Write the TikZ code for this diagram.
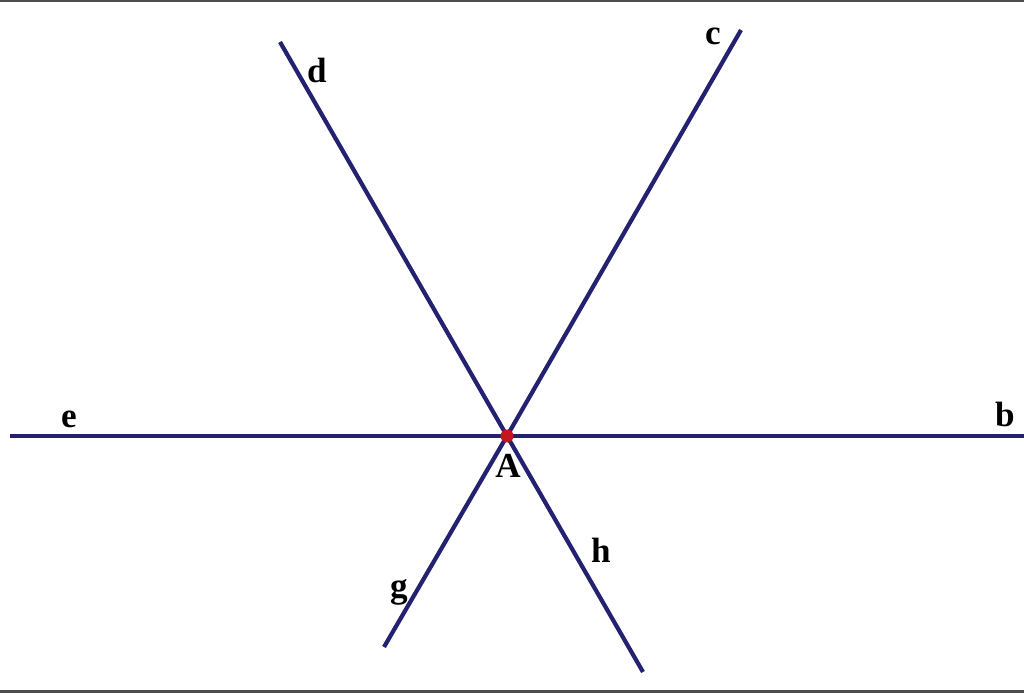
\documentclass[tikz,border=0pt]{standalone}
\usepackage{fontspec}
\setmainfont{Liberation Serif}
\usepackage{tikz}
\usetikzlibrary{arrows}
\definecolor{linenavy}{RGB}{36,34,112}
\definecolor{pointred}{RGB}{200,20,30}
\tikzset{
  ray/.style={line width=2.4pt,color=linenavy},
  lbl/.style={anchor=base,inner sep=0pt,font=\fontsize{20}{22}\selectfont\bfseries},
  frameline/.style={fill=black!70,draw=none}
}
\begin{document}
\begin{tikzpicture}[x=0.02cm,y=-0.02cm,>=latex]
                \useasboundingbox (0,0) rectangle (1024,695);
                % The frame
                \fill[frameline] (0,0) rectangle (1024,2.5);
                \fill[frameline] (0,689.5) rectangle (1024,693);
                % The point and the ends of the rays
                \coordinate (A) at (507,436);
                \coordinate (Ed) at (280,42);
                \coordinate (Ec) at (741,30);
                \coordinate (Eg) at (384,647);
                \coordinate (Eh) at (643,672);
                \coordinate (Ee) at (10,436);
                \coordinate (Eb) at (1024,436);
                % The rays
                \foreach \e in {Ed,Ec,Eg,Eh,Ee,Eb}
                {
                  \draw[ray] (A) -- (\e);
                }
                \fill[pointred] (A) circle (6.5);
                % The labels
                \node[lbl] (labA) at (508,478) {A};
                \node[lbl] (labd) at (317,83) {d};
                \node[lbl] (labc) at (713,45) {c};
                \node[lbl] (labe) at (69,428) {e};
                \node[lbl] (labb) at (1005,427) {b};
                \node[lbl] (labg) at (399,597) {g};
                \node[lbl] (labh) at (601,562) {h};
            \end{tikzpicture}
\end{document}
